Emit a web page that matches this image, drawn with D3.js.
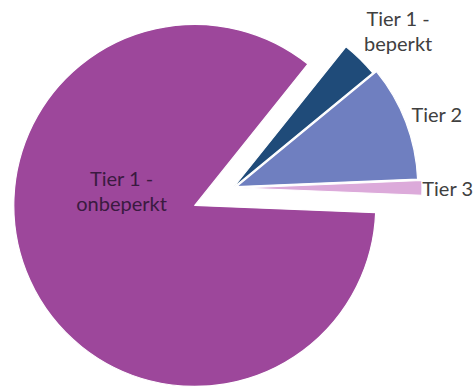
<!DOCTYPE html>
<html>
<head>
<meta charset="utf-8">
<script src="https://cdn.jsdelivr.net/npm/d3@7"></script>
<style>
  html, body { margin: 0; padding: 0; background: #ffffff; }
  svg { display: block; }
  text { font-family: "Lato", "Open Sans", sans-serif; }
</style>
</head>
<body>
<div id="chart"></div>
<script>
// Aandeel per tier (procent)
const categories = ["Tier 1 - onbeperkt", "Tier 1 - beperkt", "Tier 2", "Tier 3"];
const shares = [85.1, 3.3, 10.3, 1.3];
const colors = ["#9d479b", "#1f4b79", "#6f7fc0", "#dcaada"];

const width = 475, height = 390;
const radius = 181;
const center = { x: 233, y: 188 };
// how far each slice is pulled out along its bisector
const explode = [42, 0, 4, 8];
const deg = Math.PI / 180;
const startAngle = 92.3 * deg;

const svg = d3.select("#chart").append("svg")
  .attr("width", width).attr("height", height);

const pie = d3.pie().sort(null).value(d => d.value)
  .startAngle(startAngle).endAngle(startAngle + 2 * Math.PI);

const data = categories.map((c, i) => ({ name: c, value: shares[i], color: colors[i], explode: explode[i] }));
const arcs = pie(data);

const arc = d3.arc().innerRadius(0).outerRadius(radius);

function offset(d, dist) {
  const a = (d.startAngle + d.endAngle) / 2;
  return [dist * Math.sin(a), -dist * Math.cos(a)];
}

const g = svg.append("g").attr("transform", `translate(${center.x},${center.y})`);

const slices = g.selectAll("g.slice").data(arcs).join("g")
  .attr("class", "slice")
  .attr("transform", d => { const o = offset(d, d.data.explode); return `translate(${o[0]},${o[1]})`; });

slices.append("path")
  .attr("d", arc)
  .attr("fill", d => d.data.color)
  .attr("stroke", "#ffffff")
  .attr("stroke-width", 1.2)
  .attr("stroke-linejoin", "round");

const fontSize = 20;
const lineH = 25;

function splitLines(name) {
  const m = name.match(/^(.*-)\s+(.*)$/);
  return m ? [m[1], m[2]] : [name];
}

// outside labels for the small slices, inside label for the large one
arcs.forEach((d, i) => {
  const lines = splitLines(d.data.name);
  const o = offset(d, d.data.explode);
  const lg = slices.filter((_, j) => j === i);
  if (i === 0) {
    const inner = d3.arc().innerRadius(74.5).outerRadius(74.5)
      .startAngle(280.4 * deg).endAngle(280.4 * deg);
    const [cx, cy] = inner.centroid();
    const t = lg.append("text")
      .attr("text-anchor", "middle")
      .attr("font-size", fontSize)
      .attr("fill", "#3a1a40");
    const y0 = cy - (lines.length - 1) * lineH / 2;
    lines.forEach((ln, k) => {
      t.append("tspan").attr("x", cx).attr("y", y0 + k * lineH).attr("dy", "0.35em").text(ln);
    });
  } else {
    const a = (d.startAngle + d.endAngle) / 2;
    const r = radius + 6;
    const px = r * Math.sin(a), py = -r * Math.cos(a);
    const t = lg.append("text")
      .attr("font-size", fontSize)
      .attr("fill", "#404040")
      .attr("text-anchor", "middle");
    lines.forEach((ln, k) => {
      t.append("tspan").attr("x", 0).attr("y", k * lineH).text(ln);
    });
    const bb = t.node().getBBox();
    const w = bb.width, h = bb.height;
    const kx = Math.max(-1, Math.min(1, Math.sin(a) * 1.414));
    const ky = Math.max(-1, Math.min(1, Math.cos(a) * 1.414));
    let cx = px + kx * w / 2;
    const cy = py - ky * h / 2;
    // keep the label inside the drawing area
    const maxCx = width - 2 - center.x - o[0] - w / 2;
    cx = Math.min(cx, maxCx);
    const bcx = bb.x + w / 2, bcy = bb.y + h / 2;
    t.attr("transform", `translate(${cx - bcx},${cy - bcy})`);
  }
});
</script>
</body>
</html>
